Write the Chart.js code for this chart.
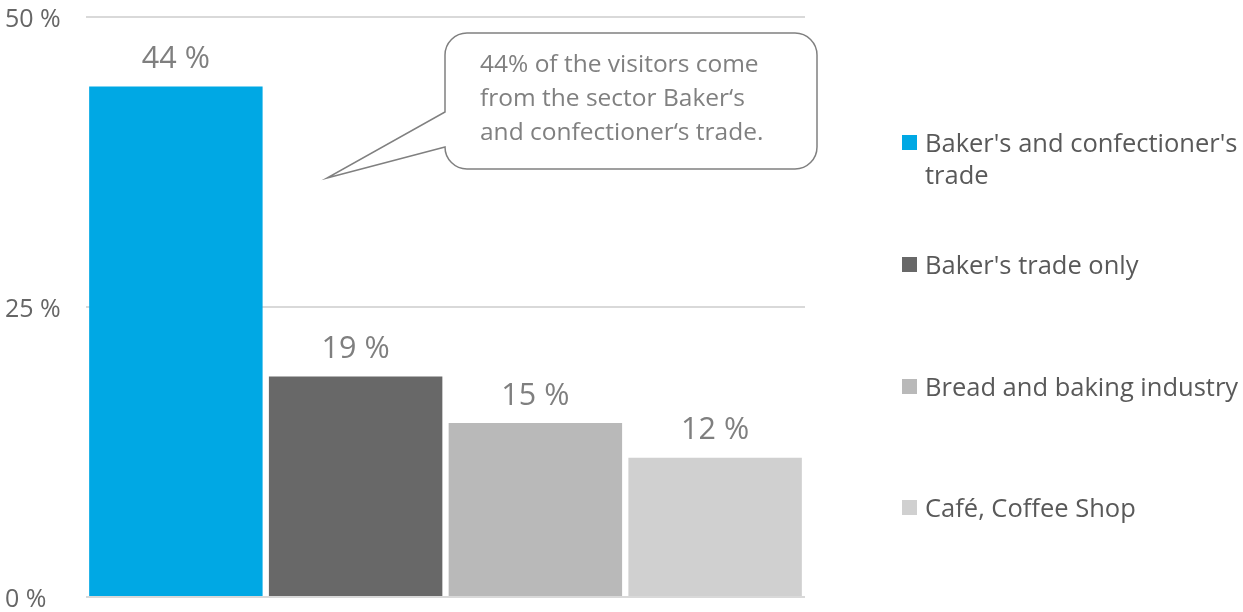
<!DOCTYPE html>
<html>
<head>
<meta charset="utf-8">
<script src="https://cdn.jsdelivr.net/npm/chart.js@4"></script>
<style>
  html, body { margin: 0; padding: 0; background: #fff; }
  #wrap { position: relative; width: 1243px; height: 612px; }
  #legend { position: absolute; left: 902px; top: 0; width: 341px; }
  .item { position: absolute; left: 0; font-family: 'Open Sans', sans-serif; font-size: 25.5px;
          line-height: 32px; color: #595959; padding-left: 23px; width: 318px; }
  .item i { position: absolute; left: 0; top: 9px; width: 15px; height: 15px; }
</style>
</head>
<body>
<div id="wrap">
  <canvas id="chart" width="1243" height="612"></canvas>
  <div id="legend"></div>
</div>
<script>
// ── DATA ─────────────────────────────────────────────────
const sectors = ["Baker's and confectioner's trade", "Baker's trade only", "Bread and baking industry", "Café, Coffee Shop"];
const shares  = [44, 19, 15, 12];
const colours = ['#00A8E4', '#686868', '#B9B9B9', '#D0D0D0'];
const yTicks  = [0, 25, 50];
const note    = ['44% of the visitors come', 'from the sector Baker‘s', 'and confectioner‘s trade.'];

// ── VALUE LABELS above each bar ──────────────────────────
const valueLabels = {
  id: 'valueLabels',
  afterDatasetsDraw(chart) {
    const ctx = chart.ctx;
    ctx.save();
    ctx.font = '30.5px "Open Sans", sans-serif';
    ctx.fillStyle = '#7F7F7F';
    ctx.textAlign = 'center';
    ctx.textBaseline = 'middle';
    chart.data.datasets.forEach((ds, i) => {
      const bar = chart.getDatasetMeta(i).data[0];
      ctx.fillText(ds.data[0] + ' %', bar.x, bar.y - 27);
    });
    ctx.restore();
  }
};

// ── CALLOUT bubble ───────────────────────────────────────
const callout = {
  id: 'callout',
  afterDraw(chart) {
    const ctx = chart.ctx;
    const x = 445, y = 33, w = 372, h = 136, r = 22;
    const tip = { x: 327, y: 178 };
    ctx.save();
    ctx.beginPath();
    ctx.moveTo(x + r, y);
    ctx.lineTo(x + w - r, y);
    ctx.arcTo(x + w, y, x + w, y + r, r);
    ctx.lineTo(x + w, y + h - r);
    ctx.arcTo(x + w, y + h, x + w - r, y + h, r);
    ctx.lineTo(x + r, y + h);
    ctx.arcTo(x, y + h, x, y + h - r, r);
    ctx.lineTo(x, 147);
    ctx.lineTo(tip.x, tip.y);
    ctx.lineTo(x, 112);
    ctx.lineTo(x, y + r);
    ctx.arcTo(x, y, x + r, y, r);
    ctx.closePath();
    ctx.fillStyle = '#fff';
    ctx.fill();
    ctx.strokeStyle = '#808080';
    ctx.lineWidth = 1.5;
    ctx.stroke();

    ctx.font = '24.5px "Open Sans", sans-serif';
    ctx.fillStyle = '#808080';
    ctx.textBaseline = 'middle';
    note.forEach((line, i) => ctx.fillText(line, 480, 65 + i * 34));
    ctx.restore();
  }
};

// ── CHART ────────────────────────────────────────────────
new Chart(document.getElementById('chart'), {
  type: 'bar',
  data: {
    labels: [''],
    datasets: sectors.map((s, i) => ({
      label: s,
      data: [shares[i]],
      backgroundColor: colours[i],
      categoryPercentage: 1,
      barPercentage: 0.965
    }))
  },
  options: {
    responsive: false,
    animation: false,
    layout: { padding: { left: 5, right: 438, top: 17, bottom: 10 } },
    plugins: { legend: { display: false }, tooltip: { enabled: false } },
    scales: {
      x: { display: false },
      y: {
        min: 0, max: 50,
        afterBuildTicks: axis => { axis.ticks = yTicks.map(v => ({ value: v })); },
        afterFit: axis => { axis.width = 81; },
        border: { display: false },
        grid: { color: '#D9D9D9', lineWidth: 2, drawTicks: false },
        ticks: {
          crossAlign: 'far',
          padding: 0,
          labelOffset: 3,
          color: '#666',
          font: { family: 'Open Sans', size: 25 },
          callback: v => v + ' %'
        }
      }
    }
  },
  plugins: [valueLabels, callout]
});

// ── LEGEND ───────────────────────────────────────────────
const legendTops = [126, 248, 370, 491];
const legend = document.getElementById('legend');
sectors.forEach((s, i) => {
  const el = document.createElement('div');
  el.className = 'item';
  el.style.top = legendTops[i] + 'px';
  el.innerHTML = `<i style="background:${colours[i]}"></i>${s}`;
  legend.appendChild(el);
});
</script>
</body>
</html>
